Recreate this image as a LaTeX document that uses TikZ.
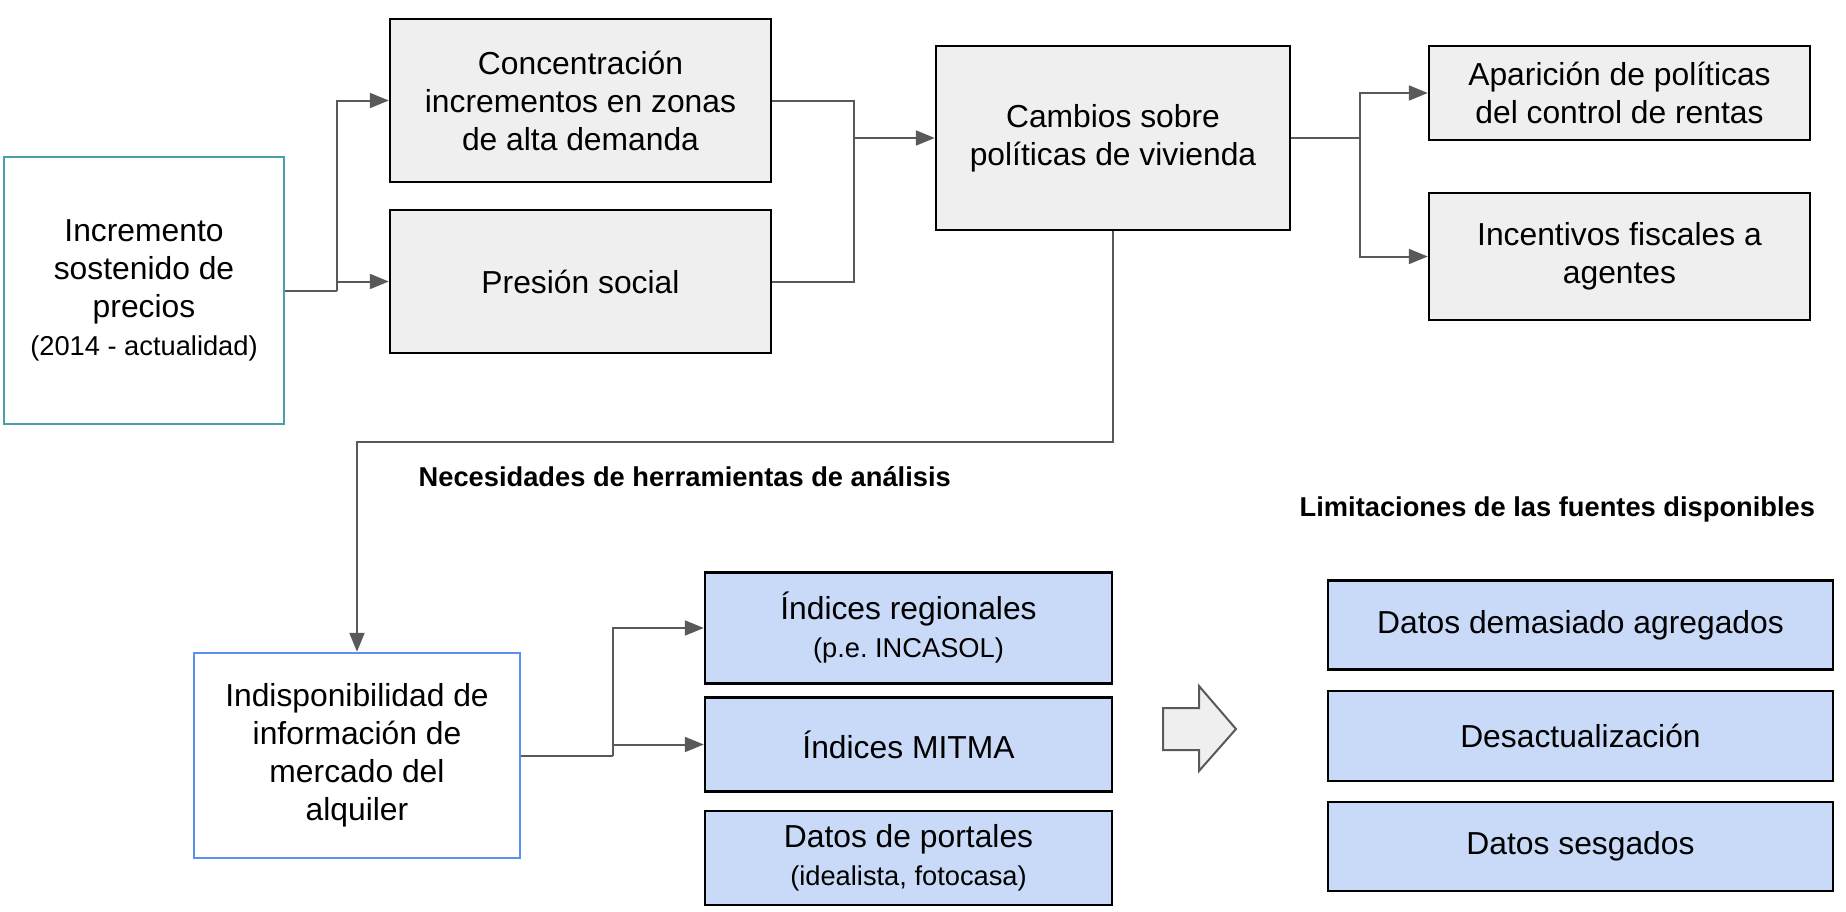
\documentclass[tikz,border=0pt]{standalone}
\usepackage{fontspec}
\setmainfont{Liberation Sans}
\usetikzlibrary{arrows.meta}
\frenchspacing
\definecolor{boxgray}{HTML}{EFEFEF}
\definecolor{boxblue}{HTML}{C9DAF8}
\definecolor{conngray}{HTML}{595959}
\definecolor{tealedge}{HTML}{4C9EAD}
\definecolor{blueedge}{HTML}{5B91EE}
\newcommand{\smalltxt}{\fontsize{7.76}{10.8}\selectfont}
\tikzset{
  box/.style={draw, line width=0.024cm, align=center, inner sep=0pt,
    font=\fontsize{9.05}{10.8}\selectfont},
  graybox/.style={box, fill=boxgray},
  bluebox/.style={box, fill=boxblue},
  line/.style={draw=conngray, line width=0.02cm},
  conn/.style={line, -{Triangle[length=0.19cm,width=0.15cm]}},
  head/.style={font=\bfseries\fontsize{7.76}{9}\selectfont, inner sep=0pt, anchor=west}
}
\begin{document}
\begin{tikzpicture}
            \useasboundingbox (0,0) rectangle (18.46,-9.12);
            \node[box, draw=tealedge, minimum width=2.80cm, minimum height=2.67cm] (incr) at (1.44,-2.905)
              {Incremento\\sostenido de\\precios\\{\smalltxt (2014 - actualidad)}};
            \node[graybox, minimum width=3.81cm, minimum height=1.63cm] (conc) at (5.805,-1.005)
              {Concentración\\incrementos en zonas\\de alta demanda};
            \node[graybox, minimum width=3.81cm, minimum height=1.43cm] (pres) at (5.805,-2.815) {Presión social};
            \node[graybox, minimum width=3.54cm, minimum height=1.84cm] (camb) at (11.13,-1.38)
              {Cambios sobre\\políticas de vivienda};
            \node[graybox, minimum width=3.81cm, minimum height=0.94cm] (apar) at (16.195,-0.93)
              {Aparición de políticas\\del control de rentas};
            \node[graybox, minimum width=3.81cm, minimum height=1.27cm] (ince) at (16.195,-2.565)
              {Incentivos fiscales a\\agentes};
            \node[box, draw=blueedge, fill=white, minimum width=3.26cm, minimum height=2.05cm] (indi) at (3.57,-7.555)
              {Indisponibilidad de\\información de\\mercado del\\alquiler};
            \node[bluebox, minimum width=4.07cm, minimum height=1.11cm] (regi) at (9.085,-6.28)
              {Índices regionales\\{\smalltxt (p.e. INCASOL)}};
            \node[bluebox, minimum width=4.07cm, minimum height=0.94cm] (mitm) at (9.085,-7.445) {Índices MITMA};
            \node[bluebox, minimum width=4.07cm, minimum height=0.94cm] (port) at (9.085,-8.58)
              {Datos de portales\\{\smalltxt (idealista, fotocasa)}};
            \node[bluebox, minimum width=5.05cm, minimum height=0.89cm] (agre) at (15.805,-6.25) {Datos demasiado agregados};
            \node[bluebox, minimum width=5.05cm, minimum height=0.90cm] (desa) at (15.805,-7.36) {Desactualización};
            \node[bluebox, minimum width=5.05cm, minimum height=0.89cm] (sesg) at (15.805,-8.465) {Datos sesgados};
            \node[head] (need) at (4.18,-4.77) {Necesidades de herramientas de análisis};
            \node[head] (limi) at (12.99,-5.09) {Limitaciones de las fuentes disponibles};
            \coordinate (j1) at (3.37,-2.905);
            \coordinate (j2) at (8.54,-1.38);
            \coordinate (j3) at (13.60,-1.38);
            \coordinate (j4) at (11.13,-4.42);
            \coordinate (j5) at (6.13,-7.555);
            \draw[line] (incr.east) -- (j1);
            \foreach \t in {conc,pres} \draw[conn] (j1) |- (\t.west);
            \foreach \s in {conc,pres} \draw[line] (\s.east) -| (j2);
            \draw[conn] (j2) -- (camb.west);
            \draw[line] (camb.east) -- (j3);
            \foreach \t in {apar,ince} \draw[conn] (j3) |- (\t.west);
            \draw[conn] (camb.south) -- (j4) -| (indi.north);
            \draw[line] (indi.east) -- (j5);
            \foreach \t in {regi,mitm} \draw[conn] (j5) |- (\t.west);
            \draw[line, fill=boxgray, line join=miter] (11.63,-7.08) -- (11.99,-7.08) -- (11.99,-6.86) -- (12.36,-7.29)
              -- (11.99,-7.71) -- (11.99,-7.50) -- (11.63,-7.50) -- cycle;
        \end{tikzpicture}
\end{document}
